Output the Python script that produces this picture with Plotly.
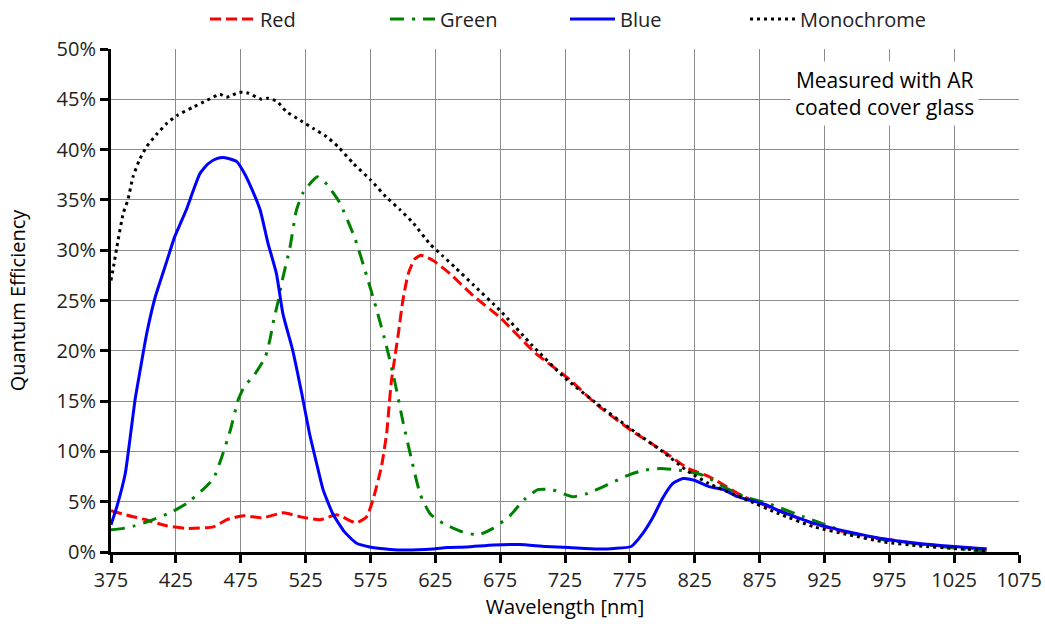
import plotly.graph_objects as go

# ---- data (wavelength in nm, QE in %) ----
red_wl = [375, 392, 402, 418, 433, 454, 464, 477, 492, 508, 521, 536, 549, 564, 572, 577, 583.5, 587.5, 591, 596.5,
          600, 604, 609, 614, 623, 636, 654, 675, 702, 728, 750, 777, 801, 820, 836, 863, 890, 917, 944, 971, 998, 1025, 1050]
red_qe = [4.1, 3.5, 3.2, 2.6, 2.35, 2.5, 3.2, 3.6, 3.4, 3.9, 3.5, 3.2, 3.7, 2.9, 3.5, 5.2, 8.5, 11.8, 16.8, 21.7,
          25.0, 27.6, 29.1, 29.5, 29.0, 27.7, 25.5, 23.3, 19.8, 17.2, 14.6, 12.0, 10.0, 8.3, 7.5, 5.5, 4.1, 2.8, 1.9, 1.3, 0.8, 0.5, 0.3]

green_wl = [375, 384.5, 393, 405, 420.5, 433, 445, 454, 460, 467, 473, 478, 485, 494, 497.5, 500.5, 504, 506.5, 513, 518,
            523, 534, 541, 551, 563, 572, 580, 587.5, 594, 600, 606.5, 613.5, 621, 631, 646, 658, 669.5, 682.5, 693.5, 704,
            715, 731, 742, 758, 774, 785, 798.5, 815, 831, 850, 863, 882, 909, 930, 944, 971, 998, 1025, 1050]
green_qe = [2.2, 2.35, 2.6, 3.1, 3.9, 4.8, 6.1, 7.3, 9.3, 12.1, 15.1, 16.5, 17.5, 19.4, 21.1, 23.1, 25.0, 26.7, 30.3, 34.0,
            35.7, 37.3, 36.6, 34.8, 31.2, 27.5, 24.0, 20.4, 16.8, 13.0, 9.3, 5.7, 3.8, 2.85, 2.0, 1.7, 2.35, 3.6, 5.2, 6.2,
            6.2, 5.5, 5.8, 6.7, 7.65, 8.1, 8.3, 8.1, 7.65, 6.3, 5.5, 4.8, 3.5, 2.5, 1.9, 1.2, 0.8, 0.4, 0.0]

blue_wl = [375, 379.5, 386, 389.5, 393.5, 397.5, 402.5, 409, 418, 424, 433, 443.5, 450, 456.5, 463, 472, 478, 483.5, 490, 496,
           502.5, 507.5, 515, 522, 528, 533.5, 538.5, 546, 555, 564, 574.5, 587, 598, 623, 634, 649, 670, 690, 710, 728,
           750, 763, 776, 785, 793, 800, 808, 816, 824, 836, 847, 858, 880, 890, 917, 944, 971, 998, 1025, 1050]
blue_qe = [2.7, 4.5, 7.8, 11.1, 15.1, 18.1, 21.7, 25.3, 28.9, 31.3, 34.0, 37.6, 38.6, 39.1, 39.2, 38.8, 37.6, 36.1, 34.0, 30.7,
           27.7, 23.7, 20.1, 15.8, 11.8, 8.8, 6.2, 3.8, 2.0, 0.9, 0.5, 0.3, 0.2, 0.3, 0.45, 0.5, 0.7, 0.75, 0.55, 0.45,
           0.3, 0.35, 0.55, 1.85, 3.5, 5.3, 6.8, 7.3, 7.15, 6.5, 6.2, 5.5, 4.7, 4.1, 2.85, 2.0, 1.3, 0.85, 0.55, 0.3]

mono_wl = [375, 377, 379.5, 384.5, 388, 392, 397, 402.5, 410, 418, 426, 438, 449, 459, 464, 474, 481, 491, 496, 503,
           510, 521, 531, 541, 550, 562, 575, 587, 598, 608, 621, 631, 641, 654, 675, 700, 725, 750, 775, 800,
           820, 836, 863, 890, 917, 944, 971, 998, 1025, 1050]
mono_qe = [27.0, 28.4, 30.3, 33.7, 35.0, 37.3, 39.0, 40.3, 41.5, 42.6, 43.4, 44.2, 44.9, 45.5, 45.2, 45.7, 45.6, 45.0, 45.1, 44.8,
           43.8, 42.9, 42.1, 41.3, 40.3, 38.6, 37.0, 35.3, 34.0, 32.7, 30.6, 29.4, 28.2, 26.6, 24.0, 20.5, 17.3, 14.7, 12.3, 10.0,
           8.0, 6.8, 5.3, 3.8, 2.5, 1.7, 1.0, 0.6, 0.35, 0.15]

x_ticks = list(range(375, 1076, 50))
y_ticks = list(range(0, 51, 5))
y_labels = [f"{v}%" for v in y_ticks]

FONT = "Open Sans"
TXT = "#222222"

fig = go.Figure()
fig.add_trace(go.Scatter(x=red_wl, y=red_qe, name="Red", mode="lines",
                         line=dict(color="#ff0000", width=3, dash="11px,5px", shape="spline", smoothing=0.5)))
fig.add_trace(go.Scatter(x=green_wl, y=green_qe, name="Green", mode="lines",
                         line=dict(color="#008000", width=3, dash="14px,8px,3px,8px", shape="spline", smoothing=0.5)))
fig.add_trace(go.Scatter(x=blue_wl, y=blue_qe, name="Blue", mode="lines",
                         line=dict(color="#0000ff", width=3, shape="spline", smoothing=0.5)))
fig.add_trace(go.Scatter(x=mono_wl, y=mono_qe, name="Monochrome", mode="lines",
                         line=dict(color="#000000", width=3, dash="3px,4px", shape="spline", smoothing=0.5)))

fig.add_annotation(x=971, y=45.6, xref="x", yref="y",
                   text="Measured with AR<br>coated cover glass", showarrow=False,
                   font=dict(family=FONT, size=21, color="#000000"),
                   bgcolor="#ffffff", borderpad=4, align="center")

fig.update_layout(
    width=1045, height=624,
    margin=dict(l=111, r=26, t=49, b=72, autoexpand=False),
    paper_bgcolor="#ffffff", plot_bgcolor="#ffffff",
    font=dict(family=FONT, size=20, color=TXT),
    showlegend=True,
    legend=dict(orientation="h", x=0.1035, xanchor="left", xref="paper",
                y=1 - 19 / 624, yanchor="middle", yref="container",
                font=dict(family=FONT, size=20, color=TXT),
                entrywidth=120, entrywidthmode="pixels", itemwidth=45,
                bgcolor="rgba(0,0,0,0)", tracegroupgap=0),
    xaxis=dict(range=[375, 1075], tickvals=x_ticks, ticktext=[str(v) for v in x_ticks],
               showgrid=True, gridcolor="#8c8c8c", gridwidth=1,
               showline=True, linecolor="#000000", linewidth=3,
               ticks="outside", ticklen=8, tickwidth=3, tickcolor="#000000",
               tickfont=dict(family=FONT, size=20, color=TXT),
               title=dict(text="Wavelength [nm]", font=dict(family=FONT, size=20, color="#000000"), standoff=6),
               zeroline=False),
    yaxis=dict(range=[0, 50], tickvals=y_ticks, ticktext=y_labels,
               showgrid=True, gridcolor="#8c8c8c", gridwidth=1,
               showline=True, linecolor="#000000", linewidth=3,
               ticks="outside", ticklen=8, tickwidth=3, tickcolor="#000000",
               tickfont=dict(family=FONT, size=20, color=TXT),
               title=dict(text="Quantum Efficiency", font=dict(family=FONT, size=20, color="#000000"), standoff=26),
               zeroline=False),
)

fig.write_html("out.html")
